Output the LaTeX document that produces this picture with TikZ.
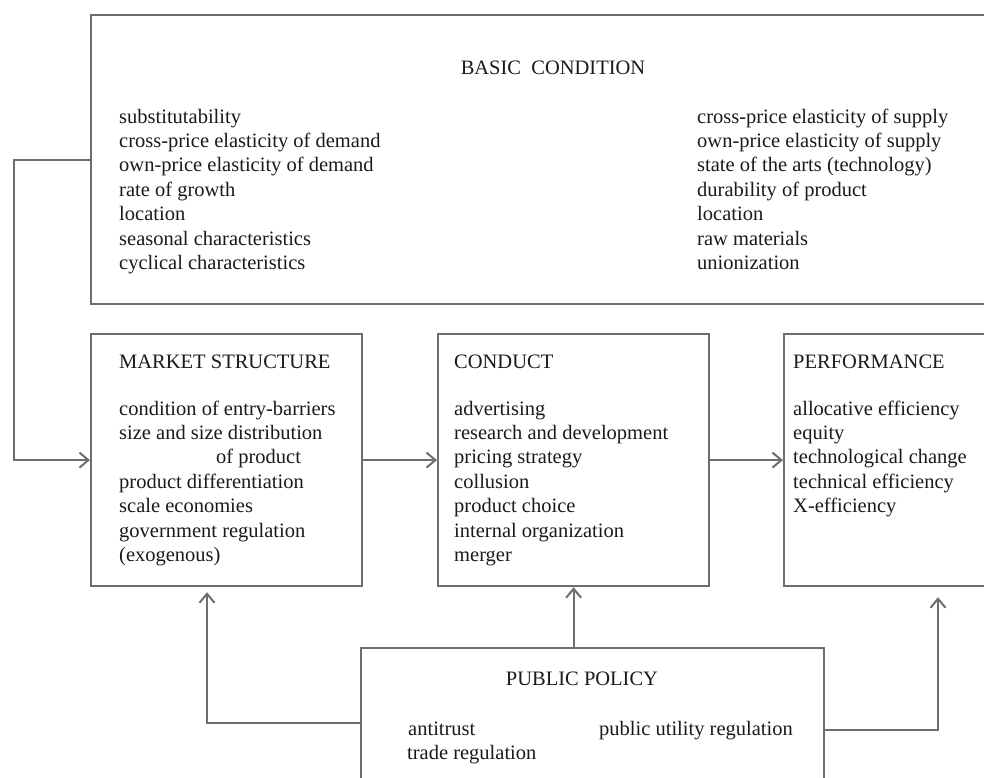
\documentclass[tikz,border=0pt]{standalone}
\usepackage{fontspec}
\setmainfont{Liberation Serif}
\usetikzlibrary{arrows.meta,calc}
\definecolor{linegray}{HTML}{6E6E6E}
\definecolor{inkc}{HTML}{1A1A1A}
\tikzset{
  box/.style={draw=linegray, line width=2.2pt, rectangle, inner sep=0pt, anchor=north west},
  conn/.style={draw=linegray, line width=2.2pt, -{Straight Barb[length=9pt,width=15pt,line width=2pt]}},
  txt/.style={font=\fontsize{20.5}{24.4}\selectfont, text=inkc, inner sep=0pt, anchor=base west},
}
\begin{document}
\begin{tikzpicture}[x=1pt,y=-1pt]
\fill[white] (0,0) rectangle (984,777);
\clip (0,0) rectangle (984,777);
% boxes
\node[box, minimum width=1000pt, minimum height=289pt] (bc) at (90,14) {};
\node[box, minimum width=271pt, minimum height=252pt] (ms) at (90,333) {};
\node[box, minimum width=271pt, minimum height=252pt] (cd) at (437,333) {};
\node[box, minimum width=300pt, minimum height=252pt] (pf) at (783,333) {};
\node[box, minimum width=463pt, minimum height=200pt] (pp) at (360,647) {};
% basic condition
\node[txt, anchor=base] (bct) at (553,74) {BASIC\ \ CONDITION};
\foreach \t [count=\i] in {substitutability,cross-price elasticity of demand,own-price elasticity of demand,rate of growth,location,seasonal characteristics,cyclical characteristics}
  \node[txt] (bcl\i) at (119,{123+24.4*(\i-1)}) {\t};
\foreach \t [count=\i] in {cross-price elasticity of supply,own-price elasticity of supply,state of the arts (technology),durability of product,location,raw materials,unionization}
  \node[txt] (bcr\i) at (697,{123+24.4*(\i-1)}) {\t};
% market structure
\node[txt] (mst) at (119,368) {MARKET STRUCTURE};
\foreach \t [count=\i] in {condition of entry-barriers,size and size distribution,,product differentiation,scale economies,government regulation,(exogenous)}
  \node[txt] (msl\i) at (119,{415+24.4*(\i-1)}) {\t};
\node[txt] (msx) at (216,463.8) {of product};
% conduct
\node[txt] (cdt) at (454,368) {CONDUCT};
\foreach \t [count=\i] in {advertising,research and development,pricing strategy,collusion,product choice,internal organization,merger}
  \node[txt] (cdl\i) at (454,{415+24.4*(\i-1)}) {\t};
% performance
\node[txt] (pft) at (793,368) {PERFORMANCE};
\foreach \t [count=\i] in {allocative efficiency,equity,technological change,technical efficiency,X-efficiency}
  \node[txt] (pfl\i) at (793,{415+24.4*(\i-1)}) {\t};
% public policy
\node[txt, anchor=base] (ppt) at (582,685) {PUBLIC POLICY};
\node[txt] (pp1) at (408,735) {antitrust};
\node[txt] (pp2) at (407,759) {trade regulation};
\node[txt] (pp3) at (599,735) {public utility regulation};
% connectors
\draw[conn] (bc.west) -- ++(-76,0) |- (ms.west);
\draw[conn] (ms) -- (cd);
\draw[conn] (cd) -- (pf);
\draw[conn] ($(pp.north west)+(0,76)$) -| ($(ms.south west)+(117,5)$);
\draw[conn] (cd.south |- pp.north) -- (cd.south);
\draw[conn] ($(pp.north east)+(0,83)$) -| ($(pf.south west)+(155,10)$);
\end{tikzpicture}
\end{document}
